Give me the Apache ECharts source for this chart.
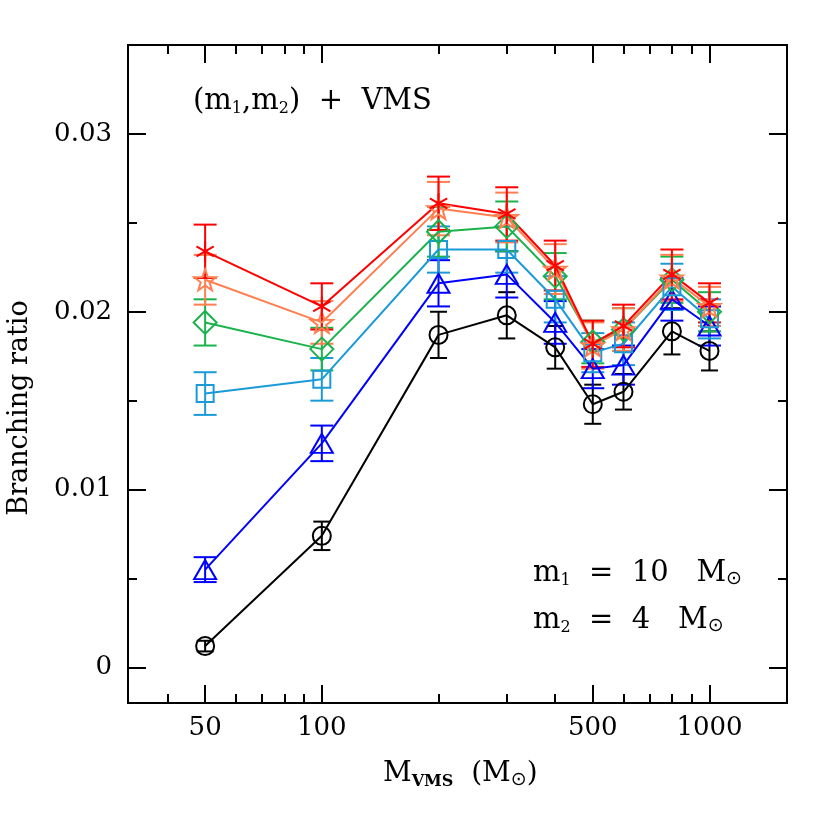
<!DOCTYPE html>
<html>
<head>
<meta charset="utf-8">
<script src="https://cdn.jsdelivr.net/npm/echarts@6/dist/echarts.min.js"></script>
<style>
  html, body { margin: 0; padding: 0; background: #fff; }
  #chart { width: 830px; height: 830px; }
</style>
</head>
<body>
<div id="chart"></div>
<script>
// VMS masses (x) and branching ratios for each (m1,m2) curve
const masses = [50, 100, 200, 300, 400, 500, 600, 800, 1000];

const redVals = [0.0234, 0.0203, 0.0261, 0.0255, 0.0226, 0.0182, 0.0192, 0.0221, 0.0205];
const redErrs = [0.0015, 0.0013, 0.0015, 0.0015, 0.0014, 0.0013, 0.0012, 0.0014, 0.0011];

const orangeVals = [0.0218, 0.0194, 0.0258, 0.0253, 0.0224, 0.0181, 0.0190, 0.0219, 0.0203];
const orangeErrs = [0.0014, 0.0012, 0.0015, 0.0014, 0.0014, 0.0013, 0.0012, 0.0013, 0.0011];

const greenVals = [0.0194, 0.0179, 0.0245, 0.0248, 0.0220, 0.0183, 0.0190, 0.0218, 0.0200];
const greenErrs = [0.0013, 0.0012, 0.0014, 0.0014, 0.0013, 0.0012, 0.0012, 0.0013, 0.0011];

const skyVals = [0.0154, 0.0162, 0.0235, 0.0235, 0.0207, 0.0177, 0.0182, 0.0214, 0.0196];
const skyErrs = [0.0012, 0.0012, 0.0013, 0.0013, 0.0013, 0.0011, 0.0012, 0.0013, 0.0011];

const blueVals = [0.0055, 0.0126, 0.0216, 0.0221, 0.0194, 0.0168, 0.0170, 0.0207, 0.0192];
const blueErrs = [0.0007, 0.0010, 0.0013, 0.0013, 0.0012, 0.0011, 0.0011, 0.0012, 0.0011];

const blackVals = [0.0012, 0.0074, 0.0187, 0.0198, 0.0180, 0.0148, 0.0155, 0.0189, 0.0178];
const blackErrs = [0.0003, 0.0008, 0.0013, 0.0013, 0.0012, 0.0011, 0.0010, 0.0013, 0.0011];

// tick positions
const xMajorTicks = [50, 100, 500, 1000];
const xMinorTicks = [40, 60, 70, 80, 90, 200, 300, 400, 600, 700, 800, 900];
const yMajorTicks = [0, 0.01, 0.02, 0.03];
const yMinorTicks = [0.005, 0.015, 0.025];

const X_MIN = Math.pow(10, 1.5);
const X_MAX = Math.pow(10, 3.2);
const Y_MIN = -0.002;
const Y_MAX = 0.035;

const colors = {
  red: "#ff0000",
  orange: "#ff7f50",
  green: "#19b24b",
  sky: "#1a9bd8",
  blue: "#0000ff",
  black: "#000000",
};

const serif = "DejaVu Serif";
const starPath = "path://M10,0L12.35,6.76L19.51,6.91L13.8,11.24L15.88,18.09L10,14L4.12,18.09L6.2,11.24L0.49,6.91L7.65,6.76Z";
const asteriskPath = "path://M10,0L10,20M1.34,5L18.66,15M1.34,15L18.66,5";

const chart = echarts.init(document.getElementById("chart"));

function xAxisDef(position, ticks, len, withLabels) {
  return {
    type: "log",
    logBase: 10,
    position: position,
    min: X_MIN,
    max: X_MAX,
    axisLine: { show: true, onZero: false, lineStyle: { color: "#000", width: 2 } },
    axisTick: { show: true, inside: true, length: len, customValues: ticks, lineStyle: { color: "#000", width: 2 } },
    axisLabel: withLabels
      ? { show: true, customValues: ticks, margin: 12, color: "#000", fontFamily: serif, fontSize: 26,
          formatter: (v) => String(Math.round(v)) }
      : { show: false },
    splitLine: { show: false },
    minorTick: { show: false },
  };
}

function yAxisDef(position, ticks, len, withLabels) {
  return {
    type: "value",
    position: position,
    min: Y_MIN,
    max: Y_MAX,
    axisLine: { show: true, onZero: false, lineStyle: { color: "#000", width: 2 } },
    axisTick: { show: true, inside: true, length: len, customValues: ticks, lineStyle: { color: "#000", width: 2 } },
    axisLabel: withLabels
      ? { show: true, customValues: ticks, margin: 16, color: "#000", fontFamily: serif, fontSize: 26,
          formatter: (v) => (Math.abs(v) < 1e-9 ? "0" : v.toFixed(2)) }
      : { show: false },
    splitLine: { show: false },
    minorTick: { show: false },
  };
}

function errorSeries(vals, errs, color, capW) {
  return {
    type: "custom",
    xAxisIndex: 0,
    yAxisIndex: 0,
    z: 3,
    data: masses.map((m, i) => [m, vals[i] - errs[i], vals[i] + errs[i]]),
    encode: { x: 0, y: [1, 2] },
    renderItem: (params, api) => {
      const lo = api.coord([api.value(0), api.value(1)]);
      const hi = api.coord([api.value(0), api.value(2)]);
      const h = capW / 2;
      const style = { stroke: color, lineWidth: 2, fill: null };
      return {
        type: "group",
        children: [
          { type: "line", shape: { x1: lo[0], y1: lo[1], x2: hi[0], y2: hi[1] }, style: style },
          { type: "line", shape: { x1: lo[0] - h, y1: lo[1], x2: lo[0] + h, y2: lo[1] }, style: style },
          { type: "line", shape: { x1: hi[0] - h, y1: hi[1], x2: hi[0] + h, y2: hi[1] }, style: style },
        ],
      };
    },
  };
}

function lineSeries(vals, color, symbol, size) {
  return {
    type: "line",
    xAxisIndex: 0,
    yAxisIndex: 0,
    z: 4,
    data: masses.map((m, i) => [m, vals[i]]),
    symbol: symbol,
    symbolSize: size,
    symbolKeepAspect: true,
    showAllSymbol: true,
    lineStyle: { color: color, width: 2 },
    itemStyle: { color: "rgba(0,0,0,0)", borderColor: color, borderWidth: 2 },
  };
}

const sub = { fontFamily: serif, fontSize: 16, verticalAlign: "bottom", padding: [14, 0, 0, 0] };
const sun = { fontFamily: "DejaVu Sans", fontSize: 19, verticalAlign: "bottom", padding: [12, 0, 0, 0] };

const options = {
  animation: false,
  backgroundColor: "#fff",
  grid: { left: 128, right: 43, top: 45, bottom: 127, outerBoundsMode: "none" },
  xAxis: [
    xAxisDef("bottom", xMajorTicks, 18, true),
    xAxisDef("bottom", xMinorTicks, 9, false),
    xAxisDef("top", xMajorTicks, 18, false),
    xAxisDef("top", xMinorTicks, 9, false),
  ],
  yAxis: [
    yAxisDef("left", yMajorTicks, 18, true),
    yAxisDef("left", yMinorTicks, 9, false),
    yAxisDef("right", yMajorTicks, 18, false),
    yAxisDef("right", yMinorTicks, 9, false),
  ],
  series: [
    errorSeries(blackVals, blackErrs, colors.black, 17),
    errorSeries(blueVals, blueErrs, colors.blue, 23),
    errorSeries(skyVals, skyErrs, colors.sky, 23),
    errorSeries(greenVals, greenErrs, colors.green, 23),
    errorSeries(orangeVals, orangeErrs, colors.orange, 23),
    errorSeries(redVals, redErrs, colors.red, 23),
    lineSeries(blackVals, colors.black, "circle", 18),
    lineSeries(blueVals, colors.blue, "triangle", [22, 19]),
    lineSeries(skyVals, colors.sky, "rect", 17),
    lineSeries(greenVals, colors.green, "diamond", 23),
    lineSeries(orangeVals, colors.orange, starPath, 22),
    lineSeries(redVals, colors.red, asteriskPath, 20),
  ],
  graphic: [
    {
      type: "text",
      left: 193,
      top: 87,
      style: {
        text: "(m{s|1},m{s|2})  +  VMS",
        font: "29px 'DejaVu Serif'",
        fill: "#000",
        rich: { s: sub },
      },
    },
    {
      type: "text",
      left: 533,
      top: 559,
      style: {
        text: "m{s|1}  =  10   M{o|⊙}",
        font: "29px 'DejaVu Serif'",
        fill: "#000",
        rich: { s: sub, o: sun },
      },
    },
    {
      type: "text",
      left: 533,
      top: 606,
      style: {
        text: "m{s|2}  =  4   M{o|⊙}",
        font: "29px 'DejaVu Serif'",
        fill: "#000",
        rich: { s: sub, o: sun },
      },
    },
    {
      type: "text",
      left: 383,
      top: 760,
      style: {
        text: "M{b|VMS}  (M{o|⊙})",
        font: "28px 'DejaVu Serif'",
        fill: "#000",
        rich: {
          b: { fontFamily: serif, fontSize: 16, fontWeight: "bold", verticalAlign: "bottom", padding: [14, 0, 0, 0] },
          o: sun,
        },
      },
    },
    {
      type: "text",
      x: 20,
      y: 408,
      rotation: Math.PI / 2,
      style: {
        text: "Branching ratio",
        font: "27px 'DejaVu Serif'",
        fill: "#000",
        align: "center",
        verticalAlign: "middle",
      },
    },
  ],
};

chart.setOption(options);
</script>
</body>
</html>
